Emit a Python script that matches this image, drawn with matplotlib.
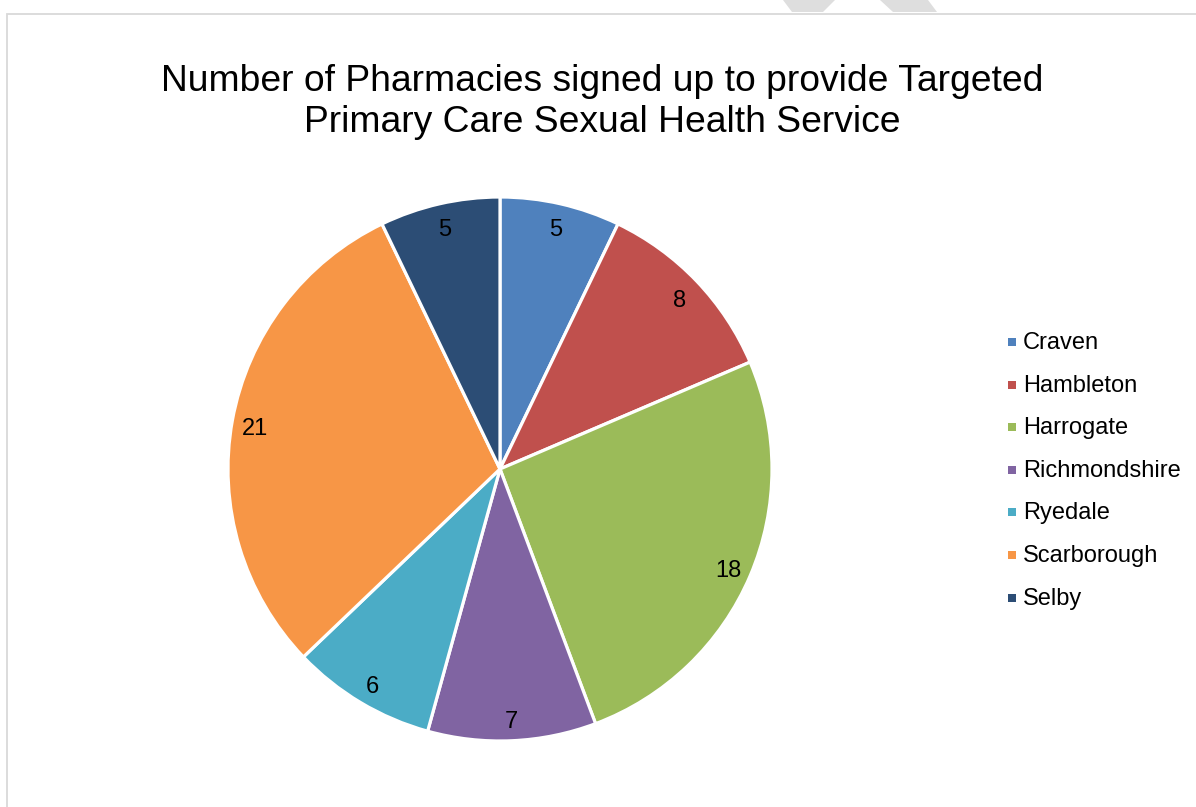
import matplotlib
matplotlib.use("Agg")
import matplotlib.pyplot as plt
from matplotlib.patches import Rectangle, Polygon

categories = ["Craven", "Hambleton", "Harrogate", "Richmondshire", "Ryedale", "Scarborough", "Selby"]
values = [5, 8, 18, 7, 6, 21, 5]
colors = ["#4F81BD", "#C0504D", "#9BBB59", "#8064A2", "#4BACC6", "#F79646", "#2C4D75"]
title = "Number of Pharmacies signed up to provide Targeted\nPrimary Care Sexual Health Service"

W, H = 1196, 807
plt.rcParams['font.family'] = ['Liberation Sans', 'DejaVu Sans']
fig = plt.figure(figsize=(W / 100, H / 100), dpi=100)
fig.patch.set_facecolor("white")

def fx(px):
    return px / W

def fy(py):
    return 1 - py / H

# watermark fragments at the top
for pts in [[(783, 0), (835, 0), (823, 12), (792, 12)],
            [(880, 0), (928, 0), (937, 12), (893, 12)]]:
    fig.patches.append(Polygon([(fx(x), fy(y)) for x, y in pts], closed=True,
                               transform=fig.transFigure, facecolor="#DEDEDE",
                               edgecolor="none", zorder=0))

# chart border
fig.patches.append(Rectangle((fx(7), fy(830)), fx(1250) - fx(7), fy(14) - fy(830),
                             transform=fig.transFigure, facecolor="none",
                             edgecolor="#D9D9D9", linewidth=1.3, zorder=1))

# pie axes
cx, cy, r = 500, 469, 272
ax = fig.add_axes([fx(cx - r), fy(cy + r), 2 * r / W, 2 * r / H])
wedges, texts = ax.pie(values, colors=colors, startangle=90, counterclock=False,
                       labels=[str(v) for v in values], labeldistance=0.915,
                       wedgeprops=dict(edgecolor="white", linewidth=2.3),
                       textprops=dict(fontsize=17, color="black"))
for t in texts:
    t.set_ha("center")
    t.set_va("center")
    x, y = t.get_position()
    t.set_position((x, y - 4 / r))
ax.set_xlim(-1, 1)
ax.set_ylim(-1, 1)
ax.set_aspect("equal")
ax.axis("off")

# title
fig.text(fx(602), fy(102), title, ha="center", va="center", fontsize=26.8,
         color="black", linespacing=1.25)

# legend
y0, dy = 343, 42.6
for i, (name, col) in enumerate(zip(categories, colors)):
    y = y0 + i * dy
    fig.patches.append(Rectangle((fx(1008), fy(y + 3)), 8 / W, 8 / H,
                                 transform=fig.transFigure, facecolor=col,
                                 edgecolor="none"))
    fig.text(fx(1023), fy(y), name, ha="left", va="center", fontsize=17, color="black")

fig.savefig("out.png", dpi=100, facecolor="white")
